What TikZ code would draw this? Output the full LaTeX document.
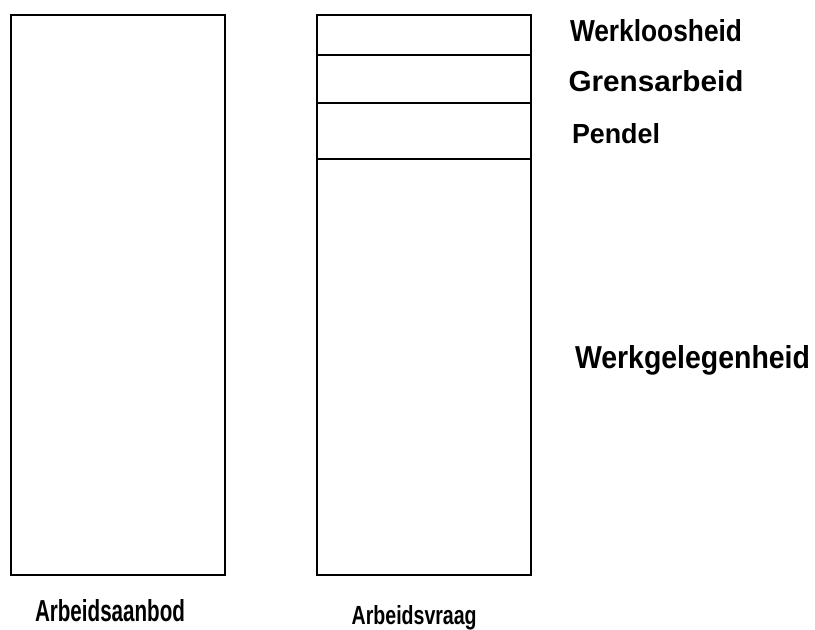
\documentclass[tikz,border=0pt]{standalone}
\usepackage{fontspec}
\setmainfont{Liberation Sans}
\usepackage{graphicx}
\newcommand\fitlabel[3]{\resizebox{#1pt}{#2pt}{\bfseries #3}}
\begin{document}
\begin{tikzpicture}[x=1pt,y=-1pt,
  colbox/.style={draw=black,line width=2pt,inner sep=0pt,outer sep=0pt,minimum height=560pt},
  divider/.style={line width=2pt},
  lbl/.style={anchor=base west,inner sep=0pt,outer sep=0pt}]
\useasboundingbox[fill=white] (0,0) rectangle (815,630);
\node[colbox,minimum width=214.3pt] (supply) at (117.85,295) {};
\node[colbox,minimum width=213.8pt] (demand) at (423.6,295) {};
\coordinate (d1) at (0,55);
\coordinate (d2) at (0,102.7);
\coordinate (d3) at (0,158.7);
\draw[divider] (demand.west |- d1) -- (demand.east |- d1);
\draw[divider] (demand.west |- d2) -- (demand.east |- d2);
\draw[divider] (demand.west |- d3) -- (demand.east |- d3);
\node[lbl] (werkl) at (570,41) {\fitlabel{172}{22}{Werkloosheid}};
\node[lbl] (grens) at (568.5,91.5) {\fitlabel{175}{21}{Grensarbeid}};
\node[lbl] (pendel) at (572,143.3) {\fitlabel{88}{20}{Pendel}};
\node[lbl] (werkg) at (575,368) {\fitlabel{235}{23}{Werkgelegenheid}};
\node[lbl] (aanbod) at (35,621.7) {\fitlabel{150}{22}{Arbeidsaanbod}};
\node[lbl] (vraag) at (351.7,624.3) {\fitlabel{125}{19}{Arbeidsvraag}};
\end{tikzpicture}
\end{document}
